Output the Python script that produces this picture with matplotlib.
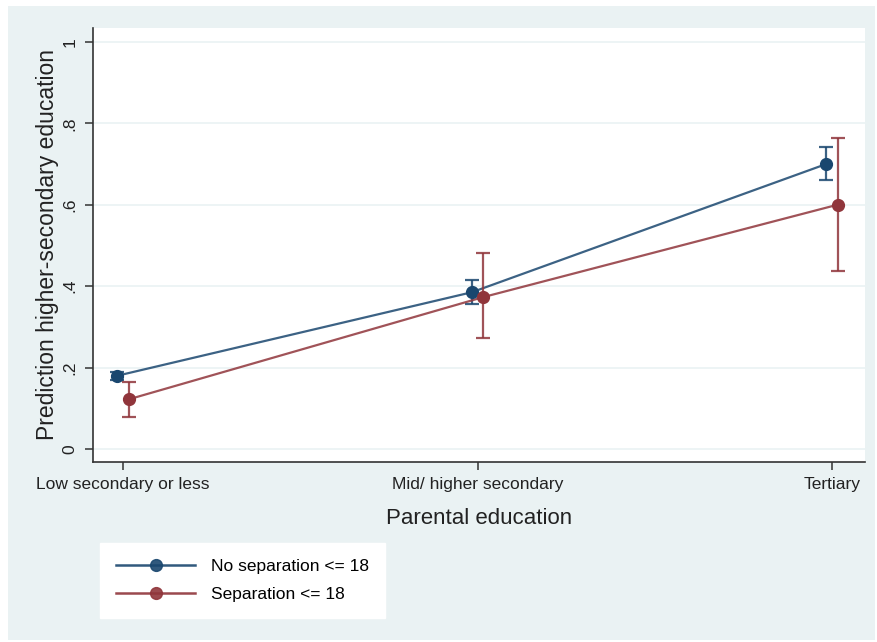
import matplotlib.pyplot as plt
from matplotlib.patches import Rectangle
from matplotlib.lines import Line2D

plt.rcParams['font.family'] = ['Liberation Sans', 'DejaVu Sans']

# --- data ---
categories = ['Low secondary or less', 'Mid/ higher secondary', 'Tertiary']
no_sep = [0.180, 0.385, 0.700]
no_sep_lo = [0.170, 0.356, 0.660]
no_sep_hi = [0.190, 0.416, 0.741]
sep = [0.122, 0.373, 0.600]
sep_lo = [0.078, 0.272, 0.437]
sep_hi = [0.164, 0.481, 0.763]
y_ticks = [0, 0.2, 0.4, 0.6, 0.8, 1]
y_ticklabels = ['0', '.2', '.4', '.6', '.8', '1']

BG = '#eaf2f3'
BLUE = '#1a476f'
RED = '#90353b'

W, H = 878, 642
fig = plt.figure(figsize=(W / 100, H / 100), dpi=100, facecolor='white')
# Stata-style light background panel, kept behind the axes
fig.patches.append(Rectangle((8 / W, 1 - 640 / H), (875 - 8) / W, (640 - 6) / H,
                             transform=fig.transFigure, facecolor=BG,
                             edgecolor='none', zorder=-10))

ax = fig.add_axes([93 / W, 1 - 462 / H, (865 - 93) / W, (462 - 28) / H])
ax.set_facecolor('white')

x = range(len(categories))
off = 0.016
xb = [i - off for i in x]
xr = [i + off for i in x]

def draw(xs, mid, lo, hi, color, label):
    yerr = [[m - l for m, l in zip(mid, lo)], [h - m for m, h in zip(mid, hi)]]
    ax.errorbar(xs, mid, yerr=yerr, fmt='none', ecolor=color, elinewidth=1.6,
                capsize=5, capthick=1.6, alpha=0.85, zorder=3)
    ax.plot(xs, mid, color=color, lw=1.6, alpha=0.85, zorder=3)
    ax.plot(xs, mid, 'o', color=color, ms=8.5, mec=color, zorder=4, label=label)

draw(xb, no_sep, no_sep_lo, no_sep_hi, BLUE, 'No separation <= 18')
draw(xr, sep, sep_lo, sep_hi, RED, 'Separation <= 18')

ax.set_xlim(-0.085, 2.093)
ax.set_ylim(-0.032, 1.034)
ax.set_xticks(list(x))
ax.set_xticklabels(categories, fontsize=12.5, color='#222222')
ax.set_yticks(y_ticks)
ax.set_yticklabels(y_ticklabels, fontsize=12.5, rotation=90, va='center', color='#222222')
ax.grid(axis='y', color=BG, lw=1.2)
ax.set_axisbelow(True)
for s in ['top', 'right']:
    ax.spines[s].set_visible(False)
for s in ['left', 'bottom']:
    ax.spines[s].set_color('#333333')
    ax.spines[s].set_linewidth(1.2)
ax.tick_params(direction='out', length=6, width=1.1, color='#333333', pad=5)

ax.set_xlabel('Parental education', fontsize=16, color='#222222', labelpad=11)
ax.set_ylabel('Prediction higher-secondary education', fontsize=16.5,
              color='#222222', labelpad=3)

handles = [Line2D([], [], color=BLUE, lw=1.8, marker='o', ms=8.5, alpha=0.9),
           Line2D([], [], color=RED, lw=1.8, marker='o', ms=8.5, alpha=0.9)]
leg = fig.legend(handles, ['No separation <= 18', 'Separation <= 18'],
                 loc='upper left', bbox_to_anchor=(100 / W, 1 - 543 / H),
                 fontsize=12.5, frameon=True, fancybox=False, handlelength=4.6,
                 handletextpad=0.9, borderpad=0.9, labelspacing=0.75,
                 borderaxespad=0)
leg.get_frame().set_facecolor('white')
leg.get_frame().set_edgecolor('white')
leg.get_frame().set_alpha(1)

fig.savefig('out.png', dpi=100, facecolor=fig.get_facecolor())
